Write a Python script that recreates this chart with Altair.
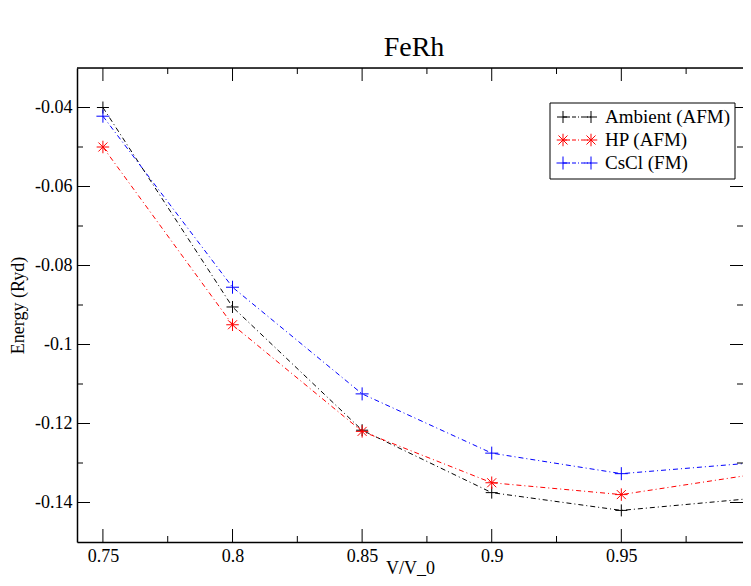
import altair as alt
import pandas as pd

# ---- data ----
names = ["Ambient (AFM)", "HP (AFM)", "CsCl (FM)"]
colors = ["#000000", "#ff0000", "#0000ff"]
vv = [0.75, 0.80, 0.85, 0.90, 0.95, 1.00]
ambient = [-0.0400, -0.0905, -0.1217, -0.1375, -0.1420, -0.1390]
hp = [-0.0500, -0.0950, -0.1220, -0.1350, -0.1380, -0.1330]
cscl = [-0.0422, -0.0855, -0.1125, -0.1275, -0.1327, -0.1300]

x_major = [0.75, 0.80, 0.85, 0.90, 0.95]
x_minor = [0.775, 0.825, 0.875, 0.925, 0.975]
y_major = [-0.14, -0.12, -0.10, -0.08, -0.06, -0.04]
y_minor = [-0.13, -0.11, -0.09, -0.07, -0.05]

rows = []
for name, vals in zip(names, [ambient, hp, cscl]):
    for xv, yv in zip(vv, vals):
        rows.append({"vv": xv, "energy": yv, "series": name})
df = pd.DataFrame(rows)
legend_df = pd.DataFrame({"series": names, "row": list(range(len(names)))})

W, H = 666, 474
FONT = "Liberation Serif"
PX_PER_UNIT = 2592.0  # horizontal scale of the reference

plus = "M-1,0H1M0,-1V1"
star = "M-1,0H1M0,-1V1M-0.72,-0.72L0.72,0.72M-0.72,0.72L0.72,-0.72"

xscale = alt.Scale(domain=[0.74, 0.74 + W / PX_PER_UNIT], nice=False, zero=False)
yscale = alt.Scale(domain=[-0.15, -0.03], nice=False, zero=False)
cscale = alt.Scale(domain=names, range=colors)
shscale = alt.Scale(domain=names, range=[plus, star, plus])
szscale = alt.Scale(domain=names, range=[144, 169, 144])
DASH = [5, 3, 1, 3]

base = alt.Chart(df)

lines = base.mark_line(strokeWidth=1, strokeDash=DASH, clip=True).encode(
    x=alt.X("vv:Q", scale=xscale,
            axis=alt.Axis(title="V/V_0", values=x_major, ticks=False,
                          labelExpr="'' + datum.value", grid=False,
                          domainColor="black", domainWidth=1.5,
                          labelFont=FONT, labelFontSize=18, labelColor="black",
                          labelPadding=5, titleFont=FONT, titleFontSize=18,
                          titleFontWeight="normal", titleColor="black",
                          titleBaseline="alphabetic", titleY=31)),
    y=alt.Y("energy:Q", scale=yscale,
            axis=alt.Axis(title="Energy (Ryd)", values=y_major, ticks=False,
                          labelExpr="'' + datum.value", grid=False,
                          domainColor="black", domainWidth=1.5,
                          labelFont=FONT, labelFontSize=18, labelColor="black",
                          labelPadding=5, titleFont=FONT, titleFontSize=18,
                          titleFontWeight="normal", titleColor="black", titlePadding=7)),
    color=alt.Color("series:N", scale=cscale, legend=None),
    detail="series:N",
    order="vv:Q",
)

points = base.mark_point(filled=False, strokeWidth=1, opacity=1, clip=True).encode(
    x="vv:Q",
    y="energy:Q",
    color=alt.Color("series:N", scale=cscale, legend=None),
    shape=alt.Shape("series:N", scale=shscale, legend=None),
    size=alt.Size("series:N", scale=szscale, legend=None),
)

xt_major = pd.DataFrame({"vv": x_major})
xt_minor = pd.DataFrame({"vv": x_minor})
yt_major = pd.DataFrame({"energy": y_major})
yt_minor = pd.DataFrame({"energy": y_minor})

def xticks(d, length):
    bot = alt.Chart(d).mark_rule(color="black", strokeWidth=1).encode(
        x="vv:Q", y=alt.value(H), y2=alt.value(H - length))
    top = alt.Chart(d).mark_rule(color="black", strokeWidth=1).encode(
        x="vv:Q", y=alt.value(0), y2=alt.value(length))
    return [bot, top]

def yticks(d, length):
    left = alt.Chart(d).mark_rule(color="black", strokeWidth=1).encode(
        y="energy:Q", x=alt.value(0), x2=alt.value(length))
    right = alt.Chart(d).mark_rule(color="black", strokeWidth=1).encode(
        y="energy:Q", x=alt.value(W), x2=alt.value(W - length))
    return [left, right]

top_frame = alt.Chart(pd.DataFrame({"a": [0]})).mark_rule(color="black", strokeWidth=1.5).encode(
    x=alt.value(0), x2=alt.value(W), y=alt.value(0))

main = alt.layer(
    lines, points,
    *xticks(xt_major, 13), *xticks(xt_minor, 6),
    *yticks(yt_major, 13), *yticks(yt_minor, 6),
    top_frame,
)

# ---- legend box (upper right) ----
rowscale = alt.Scale(domain=[0, 2], range=[49, 95])
lbase = alt.Chart(legend_df)
box = alt.Chart(pd.DataFrame({"a": [0]})).mark_rect(fill="white", stroke="black", strokeWidth=1).encode(
    x=alt.value(473), x2=alt.value(658), y=alt.value(35), y2=alt.value(111))
lline = lbase.mark_rule(strokeWidth=1, strokeDash=[4, 2, 1, 2]).encode(
    x=alt.value(486), x2=alt.value(514),
    y=alt.Y("row:Q", scale=rowscale, axis=None),
    color=alt.Color("series:N", scale=cscale, legend=None))

def lmark(xpix):
    return lbase.mark_point(filled=False, strokeWidth=1, opacity=1).encode(
        x=alt.value(xpix),
        y=alt.Y("row:Q", scale=rowscale, axis=None),
        color=alt.Color("series:N", scale=cscale, legend=None),
        shape=alt.Shape("series:N", scale=shscale, legend=None),
        size=alt.Size("series:N", scale=szscale, legend=None))

ltext = lbase.mark_text(align="left", baseline="middle", font=FONT, fontSize=19, color="black").encode(
    x=alt.value(528), y=alt.Y("row:Q", scale=rowscale, axis=None), text="series:N")

legend = alt.layer(box, lline, lmark(486), lmark(514), ltext)

chart = alt.layer(main, legend).resolve_scale(y="independent").properties(
    width=W, height=H,
    title=alt.Title("FeRh", font=FONT, fontSize=28, fontWeight="normal", color="black",
                    anchor="middle", offset=5, dx=4),
    autosize=alt.AutoSizeParams(type="none"),
    padding={"left": 69, "top": 60, "right": 0, "bottom": 36},
).configure_view(stroke=None).configure(background="white")

chart.save("out.html", embed_options={"renderer": "svg", "actions": False})
